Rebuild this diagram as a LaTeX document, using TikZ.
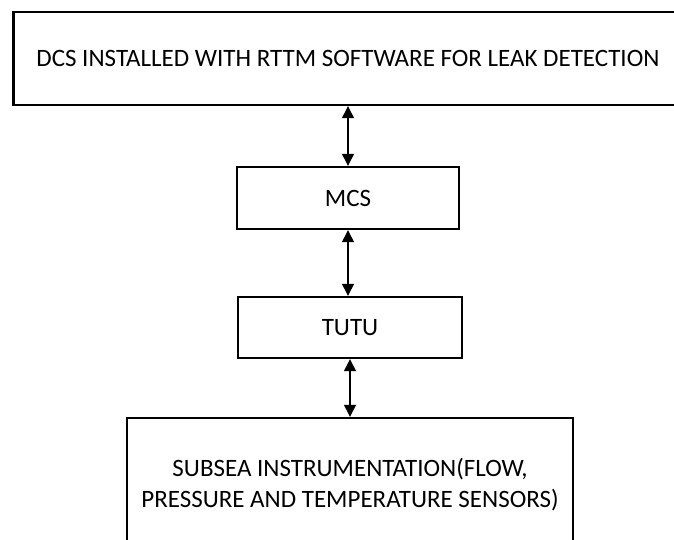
\documentclass[tikz,border=0pt]{standalone}
\usepackage{fontspec}
\setmainfont{Carlito}
\usetikzlibrary{arrows.meta}
\tikzset{
  box/.style={draw, line width=2.4pt, inner sep=0pt, align=center,
    font=\fontsize{25}{31}\selectfont},
  link/.style={line width=1.3pt, {Triangle[length=12pt,width=12pt]}-{Triangle[length=12pt,width=12pt]}}
}
\begin{document}
\begin{tikzpicture}[x=1pt,y=-1pt]
\useasboundingbox (0,0) rectangle (674,540);
\clip (0,0) rectangle (674,540);
\fill[white] (0,0) rectangle (674,540);
\node[box, minimum width=669pt, minimum height=93pt] (dcs) at (348,58.5)
  {DCS INSTALLED WITH RTTM SOFTWARE FOR LEAK DETECTION};
\node[box, minimum width=222pt, minimum height=62pt] (mcs) at (348,198) {MCS};
\node[box, minimum width=224pt, minimum height=61pt] (tutu) at (350,327.5) {TUTU};
\node[box, minimum width=446pt, minimum height=133pt] (sub) at (350,484.5)
  {SUBSEA INSTRUMENTATION(FLOW,\\PRESSURE AND TEMPERATURE SENSORS)};
\draw[link] (mcs.north |- dcs.south) -- (mcs.north);
\draw[link] (mcs.south) -- (mcs.south |- tutu.north);
\draw[link] (tutu.south) -- (tutu.south |- sub.north);
\end{tikzpicture}
\end{document}
